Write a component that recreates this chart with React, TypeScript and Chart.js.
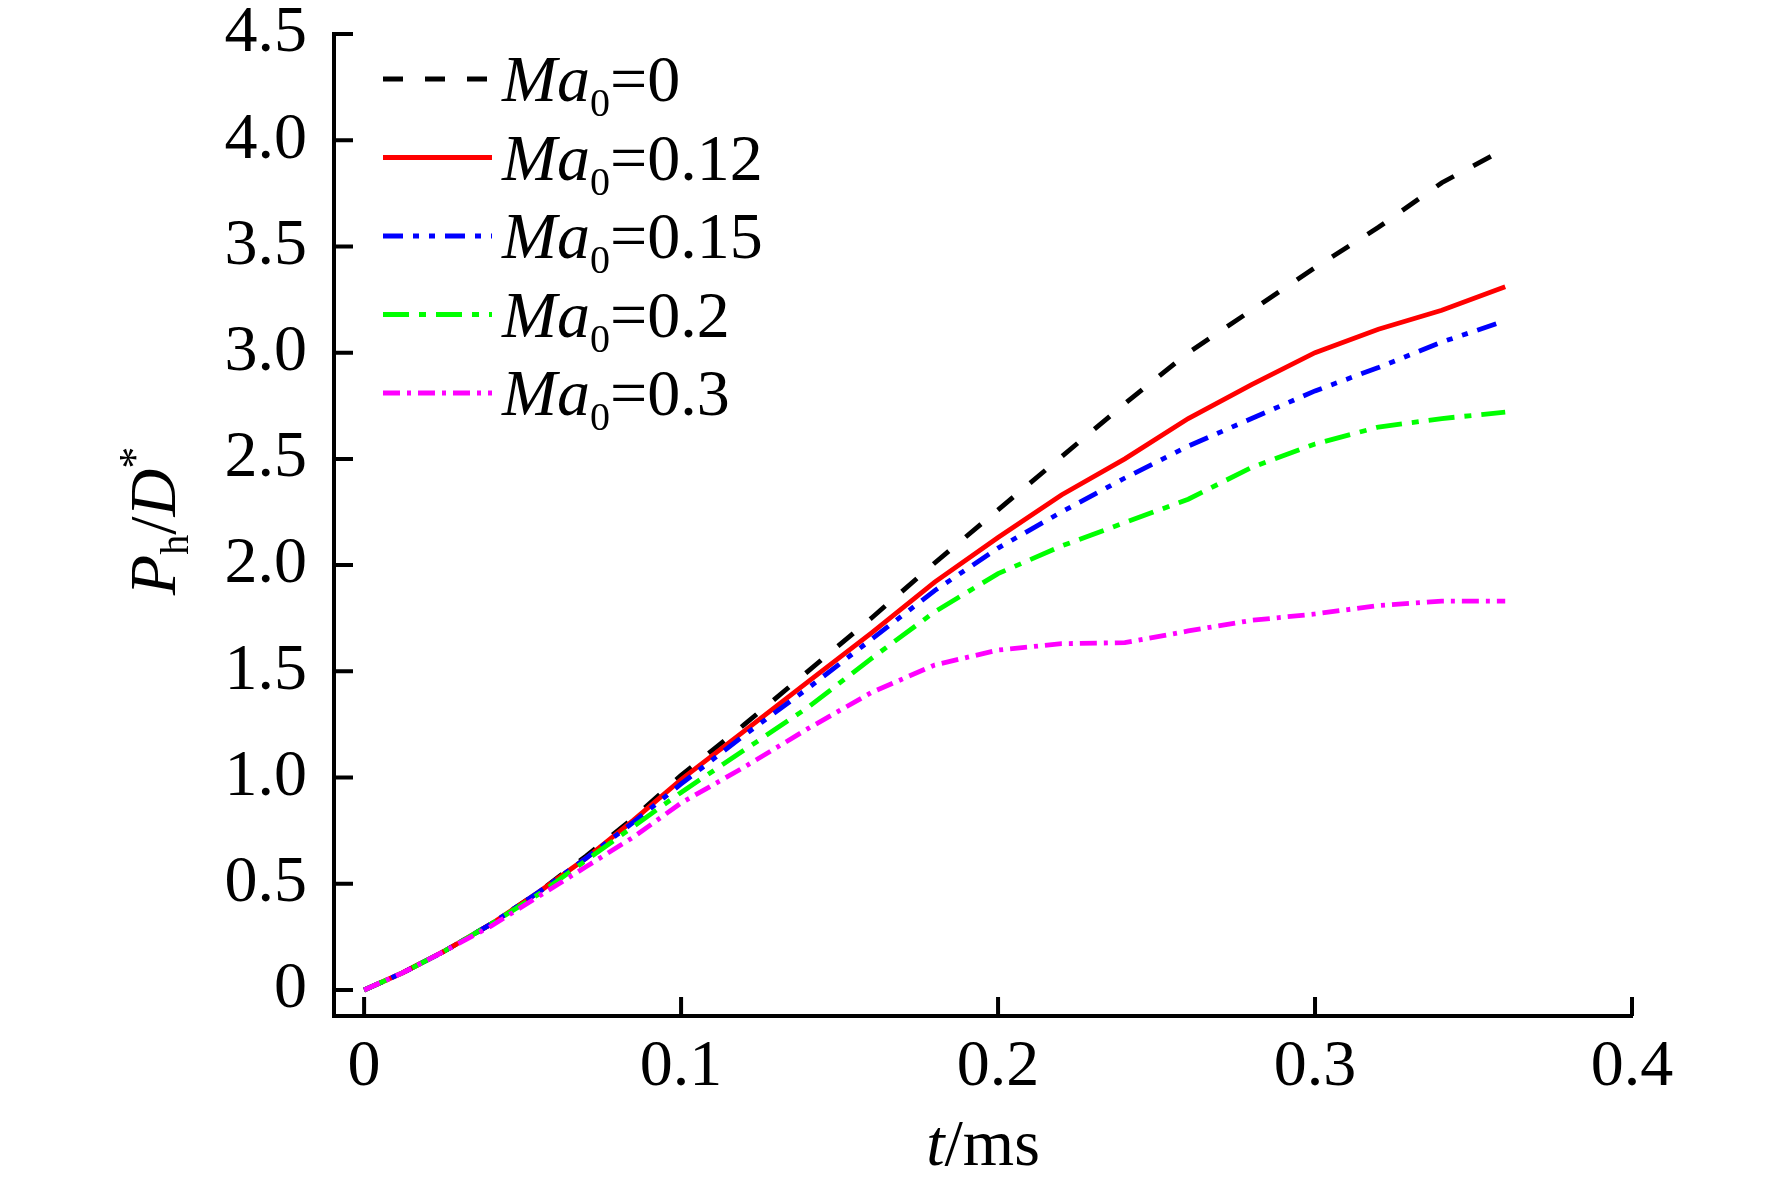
import { useEffect, useRef } from 'react';
import { Chart, registerables } from 'chart.js';

Chart.register(...registerables);

const FONT = "'Times New Roman', 'Liberation Serif', serif";

// t in ms
const tValues = [0, 0.012, 0.025, 0.04, 0.055, 0.07, 0.085, 0.1, 0.12, 0.14, 0.16, 0.18, 0.2, 0.22, 0.24, 0.26, 0.28, 0.3, 0.32, 0.34, 0.36];

const ma0 = [0, 0.08, 0.18, 0.31, 0.46, 0.63, 0.81, 1.01, 1.25, 1.5, 1.75, 2.01, 2.26, 2.51, 2.76, 3.0, 3.2, 3.4, 3.59, 3.8, 3.96];
const ma012 = [0, 0.08, 0.18, 0.31, 0.46, 0.62, 0.8, 0.99, 1.22, 1.45, 1.68, 1.92, 2.13, 2.33, 2.5, 2.69, 2.85, 3.0, 3.11, 3.2, 3.31];
const ma015 = [0, 0.08, 0.18, 0.31, 0.46, 0.62, 0.79, 0.97, 1.2, 1.42, 1.65, 1.88, 2.08, 2.25, 2.41, 2.56, 2.69, 2.82, 2.93, 3.05, 3.15];
const ma02 = [0, 0.08, 0.18, 0.31, 0.45, 0.61, 0.77, 0.93, 1.13, 1.33, 1.56, 1.78, 1.96, 2.09, 2.2, 2.31, 2.46, 2.57, 2.65, 2.69, 2.72];
const ma03 = [0, 0.08, 0.18, 0.3, 0.44, 0.58, 0.72, 0.88, 1.05, 1.23, 1.4, 1.53, 1.6, 1.63, 1.635, 1.69, 1.74, 1.77, 1.81, 1.83, 1.83];

const machLabels = ['0', '0.12', '0.15', '0.2', '0.3'];

const xTickValues = [0, 0.1, 0.2, 0.3, 0.4];
const xTickLabels = ['0', '0.1', '0.2', '0.3', '0.4'];
const yTickValues = [0, 0.5, 1, 1.5, 2, 2.5, 3, 3.5, 4, 4.5];
const yTickLabels = ['0', '0.5', '1.0', '1.5', '2.0', '2.5', '3.0', '3.5', '4.0', '4.5'];

const series = [
  { values: ma0, color: '#000000', dash: [20, 22] },
  { values: ma012, color: '#ff0000', dash: [] },
  { values: ma015, color: '#0000ff', dash: [20, 10, 6, 10, 6, 10] },
  { values: ma02, color: '#00ff00', dash: [26, 10, 7, 10] },
  { values: ma03, color: '#ff00ff', dash: [17, 7, 4, 7] },
];

type Run = { text: string; size: number; italic?: boolean; dy?: number };

function runFont(r: Run) {
  return `${r.italic ? 'italic ' : ''}${r.size}px ${FONT}`;
}

function runsWidth(ctx: CanvasRenderingContext2D, runs: Run[]) {
  let w = 0;
  runs.forEach(r => {
    ctx.font = runFont(r);
    w += ctx.measureText(r.text).width;
  });
  return w;
}

function drawRuns(ctx: CanvasRenderingContext2D, runs: Run[], x: number, y: number) {
  let cx = x;
  runs.forEach(r => {
    ctx.font = runFont(r);
    ctx.fillText(r.text, cx, y + (r.dy || 0));
    cx += ctx.measureText(r.text).width;
  });
}

const TICK = 19;

const decorPlugin = {
  id: 'decor',
  afterDraw(chart: any) {
    const { ctx, chartArea, scales } = chart;
    const xs = scales.x;
    const ys = scales.y;
    ctx.save();

    // inward tick marks
    ctx.strokeStyle = '#000';
    ctx.lineWidth = 4;
    ctx.setLineDash([]);
    ctx.beginPath();
    xs.ticks.forEach((t: any) => {
      const px = xs.getPixelForValue(t.value);
      ctx.moveTo(px, chartArea.bottom);
      ctx.lineTo(px, chartArea.bottom - TICK);
    });
    ys.ticks.forEach((t: any) => {
      const py = ys.getPixelForValue(t.value);
      ctx.moveTo(chartArea.left, py);
      ctx.lineTo(chartArea.left + TICK, py);
    });
    ctx.stroke();

    ctx.fillStyle = '#000';
    ctx.textBaseline = 'alphabetic';
    ctx.textAlign = 'left';

    // x title
    const xRuns: Run[] = [
      { text: 't', size: 66, italic: true },
      { text: '/ms', size: 66 },
    ];
    const xw = runsWidth(ctx, xRuns);
    drawRuns(ctx, xRuns, (chartArea.left + chartArea.right) / 2 - xw / 2, 1165);

    // y title, rotated
    const yRuns: Run[] = [
      { text: 'P', size: 66, italic: true },
      { text: 'h', size: 40, dy: 13 },
      { text: '/', size: 66 },
      { text: 'D', size: 66, italic: true },
      { text: '*', size: 44, dy: -26 },
    ];
    const yw = runsWidth(ctx, yRuns);
    ctx.save();
    ctx.translate(175, 521);
    ctx.rotate(-Math.PI / 2);
    drawRuns(ctx, yRuns, -yw / 2, 0);
    ctx.restore();

    // legend
    chart.data.datasets.forEach((ds: any, i: number) => {
      const ly = 79 + i * 78.5;
      ctx.strokeStyle = ds.borderColor;
      ctx.lineWidth = ds.borderWidth;
      ctx.setLineDash(ds.borderDash || []);
      ctx.beginPath();
      ctx.moveTo(383, ly);
      ctx.lineTo(492, ly);
      ctx.stroke();
      ctx.setLineDash([]);
      drawRuns(ctx, [
        { text: 'Ma', size: 66, italic: true },
        { text: '0', size: 40, dy: 15 },
        { text: '=' + machLabels[i], size: 66 },
      ], 502, ly + 22);
    });

    ctx.restore();
  },
};

export default function App() {
  const canvasRef = useRef<HTMLCanvasElement>(null);
  const chartRef = useRef<Chart | null>(null);

  useEffect(() => {
    if (!canvasRef.current) return;
    const ctx = canvasRef.current.getContext('2d');
    if (!ctx) return;
    if (chartRef.current) chartRef.current.destroy();

    chartRef.current = new Chart(ctx, {
      type: 'line',
      data: {
        datasets: series.map((s, i) => ({
          label: 'Ma0=' + machLabels[i],
          data: tValues.map((t, k) => ({ x: t, y: s.values[k] })),
          borderColor: s.color,
          backgroundColor: s.color,
          borderWidth: 4.8,
          borderDash: s.dash,
          pointRadius: 0,
          tension: 0,
          fill: false,
          order: series.length - i,
        })),
      },
      plugins: [decorPlugin],
      options: {
        responsive: true,
        maintainAspectRatio: false,
        animation: false,
        layout: { padding: { left: 0, top: 34, right: 140, bottom: 0 } },
        plugins: {
          legend: { display: false },
          tooltip: { enabled: false },
        },
        scales: {
          x: {
            type: 'linear',
            min: -0.0095,
            max: 0.4,
            grid: { display: false, drawTicks: false },
            border: { display: true, color: '#000', width: 4 },
            afterBuildTicks: (scale: any) => {
              scale.ticks = xTickValues.map(v => ({ value: v }));
            },
            afterFit: (scale: any) => {
              scale.height = 173;
              scale.paddingLeft = 0;
              scale.paddingRight = 0;
            },
            ticks: {
              color: '#000',
              padding: 19,
              maxRotation: 0,
              font: { family: FONT, size: 66, lineHeight: 1 },
              callback: (v: any) => {
                const k = xTickValues.indexOf(Number(v));
                return k >= 0 ? xTickLabels[k] : '';
              },
            },
          },
          y: {
            type: 'linear',
            min: -0.1224,
            max: 4.5,
            grid: { display: false, drawTicks: false },
            border: { display: true, color: '#000', width: 4 },
            afterBuildTicks: (scale: any) => {
              scale.ticks = yTickValues.map(v => ({ value: v }));
            },
            afterFit: (scale: any) => {
              scale.width = 334;
              scale.paddingTop = 0;
              scale.paddingBottom = 0;
            },
            ticks: {
              color: '#000',
              padding: 27,
              font: { family: FONT, size: 66, lineHeight: 1 },
              callback: (v: any) => {
                const k = yTickValues.indexOf(Number(v));
                return k >= 0 ? yTickLabels[k] : '';
              },
            },
          },
        },
      },
    } as any);

    return () => {
      if (chartRef.current) {
        chartRef.current.destroy();
        chartRef.current = null;
      }
    };
  }, []);

  return (
    <div style={{ position: 'fixed', left: 0, top: 0, width: 1772, height: 1189, background: '#fff' }}>
      <canvas ref={canvasRef} />
    </div>
  );
}
